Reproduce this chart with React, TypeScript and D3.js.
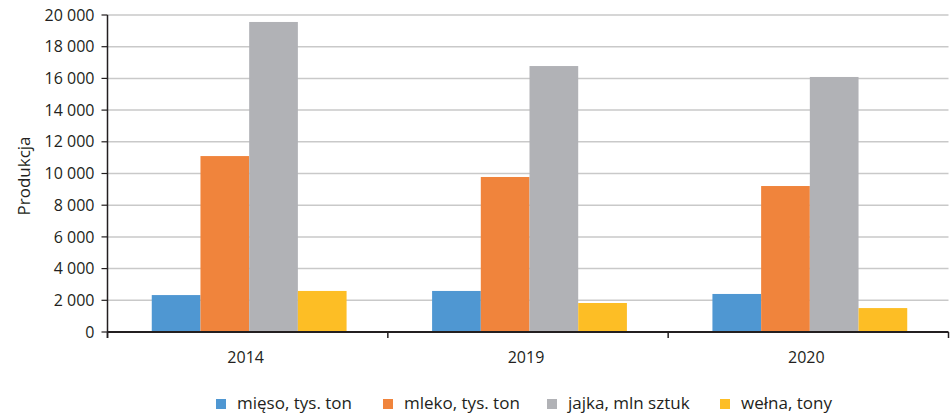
import React from "react";
import * as d3 from "d3";

const categories = ["2014", "2019", "2020"];
const seriesNames = ["mięso, tys. ton", "mleko, tys. ton", "jajka, mln sztuk", "wełna, tony"];
const mieso = [2330, 2590, 2400];
const mleko = [11100, 9780, 9210];
const jajka = [19560, 16780, 16090];
const welna = [2590, 1830, 1510];
const yTicks = [0, 2000, 4000, 6000, 8000, 10000, 12000, 14000, 16000, 18000, 20000];
const colors = ["#4f97d2", "#f0843c", "#b1b2b6", "#fdbe25"];

const W = 950;
const H = 414;
const left = 107.5;
const right = 948.5;
const top = 15;
const bottom = 332;
const font = "'Open Sans', sans-serif";
const textColor = "#231f20";

export default function App() {
  const series = [mieso, mleko, jajka, welna];
  const x0 = d3.scaleBand<string>().domain(categories).range([left, right]).padding(0);
  const x1 = d3
    .scaleBand<number>()
    .domain(d3.range(series.length))
    .range([1.5, x0.bandwidth() + 1.5])
    .paddingInner(0)
    .paddingOuter(0.878);
  const y = d3.scaleLinear().domain([0, 20000]).range([bottom, top]);
  const fmt = (v: number) => d3.format(",")(v).replace(/,/g, " ");
  const boundaries = [...categories.map((c) => x0(c) as number), right];

  const legendX = [216, 383, 547, 720];

  return (
    <svg width={W} height={H} style={{ position: "absolute", left: 0, top: 0, background: "#fff" }}>
      {yTicks.map((t) => (
        <g key={t}>
          {t > 0 && (
            <line x1={left} x2={right} y1={y(t)} y2={y(t)} stroke="#c9c9c9" strokeWidth={1.5} />
          )}
          <line x1={left - 6} x2={left} y1={y(t)} y2={y(t)} stroke="#231f20" strokeWidth={1.2} />
          <text
            x={left - 13}
            y={y(t)}
            dy="0.35em"
            textAnchor="end"
            fontFamily={font}
            fontSize={16}
            fill={textColor}
          >
            {fmt(t)}
          </text>
        </g>
      ))}
      {categories.map((c, ci) =>
        series.map((s, si) => (
          <rect
            key={c + si}
            x={(x0(c) as number) + (x1(si) as number)}
            y={y(s[ci])}
            width={x1.bandwidth()}
            height={bottom - y(s[ci])}
            fill={colors[si]}
          />
        ))
      )}
      <line x1={left} x2={left} y1={top} y2={bottom + 6} stroke="#231f20" strokeWidth={1.5} />
      <line x1={left} x2={right} y1={bottom} y2={bottom} stroke="#231f20" strokeWidth={1.8} />
      {boundaries.map((b, i) => (
        <line key={i} x1={b} x2={b} y1={bottom} y2={bottom + 6} stroke="#231f20" strokeWidth={1.5} />
      ))}
      {categories.map((c) => (
        <text
          key={c}
          x={(x0(c) as number) + x0.bandwidth() / 2 - 2}
          y={363}
          textAnchor="middle"
          fontFamily={font}
          fontSize={16}
          fill={textColor}
        >
          {c}
        </text>
      ))}
      <text
        transform={`translate(30, 176) rotate(-90)`}
        textAnchor="middle"
        fontFamily={font}
        fontSize={17}
        fill={textColor}
      >
        Produkcja
      </text>
      {seriesNames.map((n, i) => (
        <g key={n}>
          <rect x={legendX[i]} y={399} width={10} height={10} fill={colors[i]} />
          <text x={legendX[i] + 21} y={409} fontFamily={font} fontSize={17} fill={textColor}>
            {n}
          </text>
        </g>
      ))}
    </svg>
  );
}
